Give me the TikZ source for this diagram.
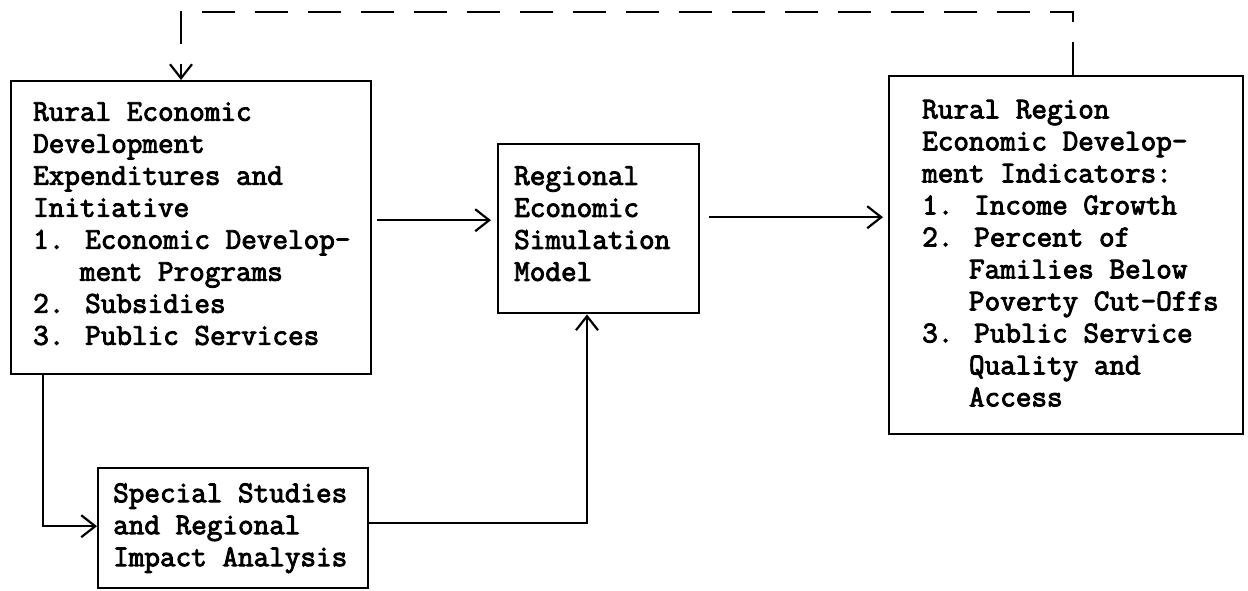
\documentclass[tikz,border=0pt]{standalone}
\usepackage{fontspec}
\newfontfamily\tw{Latin Modern Mono}[FakeBold=3]
\usetikzlibrary{arrows.meta,calc}
\tikzset{
  box/.style={draw=black, line width=2.4pt, rectangle, inner sep=0pt, anchor=north west},
  txt/.style={font=\tw\fontsize{30.3pt}{32pt}\selectfont, align=left, inner sep=0pt, anchor=west},
  conn/.style={draw=black, line width=2pt},
  arr/.style={conn, -{Straight Barb[length=14pt,width=22pt,line width=2.2pt]}},
  fbline/.style={arr, dash pattern=on 33pt off 20pt}
}
\begin{document}
\begin{tikzpicture}[x=1pt,y=-1pt]
\useasboundingbox (0,0) rectangle (1248,590);
% boxes
\node[box, minimum width=360pt, minimum height=293pt] (A) at (10,80) {};
\node[box, minimum width=201pt, minimum height=169pt] (B) at (497,143) {};
\node[box, minimum width=354pt, minimum height=358pt] (C) at (888,75) {};
\node[box, minimum width=270pt, minimum height=120pt] (D) at (97,467) {};
% texts
\node[txt] (At) at ($(A.west)+(23,-4)$) {Rural Economic\\Development\\Expenditures and\\Initiative\\1. Economic Develop-\\\hphantom{1.X}ment Programs\\2. Subsidies\\3. Public Services};
\node[txt] (Bt) at ($(B.west)+(17,-5)$) {Regional\\Economic\\Simulation\\Model};
\node[txt] (Ct) at ($(C.west)+(34,-2)$) {Rural Region\\Economic Develop-\\ment Indicators:\\1. Income Growth\\2. Percent of\\\hphantom{1.X}Families Below\\\hphantom{1.X}Poverty Cut-Offs\\3. Public Service\\\hphantom{1.X}Quality and\\\hphantom{1.X}Access};
\node[txt] (Dt) at ($(D.west)+(16,0)$) {Special Studies\\and Regional\\Impact Analysis};
% connectors
\draw[arr] ($(A.east)+(5,-7.5)$) -- ($(B.west)+(-6,-8.5)$);
\draw[arr] ($(B.east)+(9,-11.5)$) -- ($(C.west)+(-5,-38)$);
\draw[arr] ($(A.south west)+(33,0)$) |- ($(D.west)+(0,-2)$);
\draw[arr] ($(D.east)+(0,-5)$) -| ($(B.south west)+(90,0)$);
\coordinate (fbl) at (181,12);
\draw[fbline] ($(C.north west)+(185,0)$) |- (fbl) -- ($(A.north west)+(171,0)$);
\end{tikzpicture}
\end{document}
